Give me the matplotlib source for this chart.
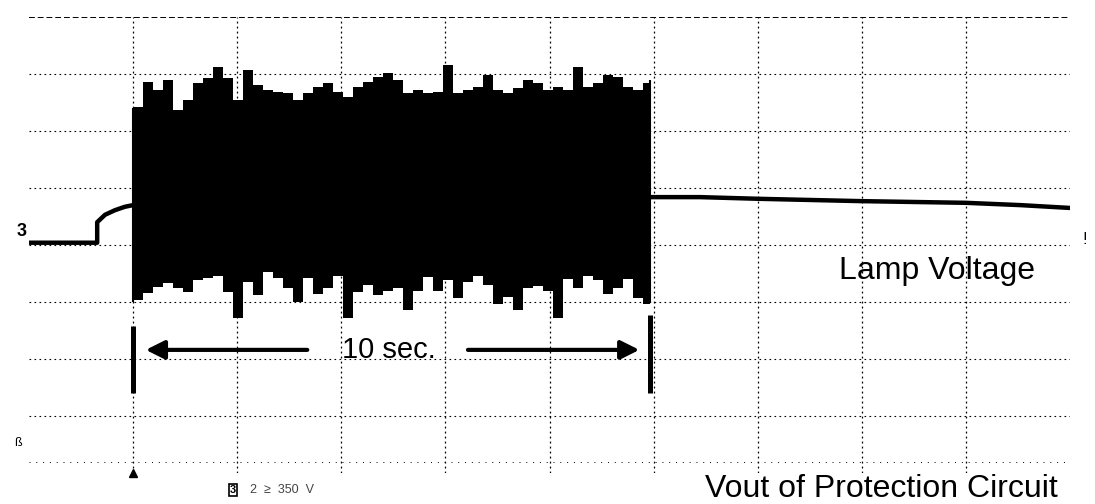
import matplotlib
matplotlib.use("Agg")
import matplotlib.pyplot as plt
import numpy as np

plt.rcParams['font.family'] = ['Liberation Sans', 'DejaVu Sans']

# time base 2 s/div, vertical scale in screen divisions
# lamp voltage before the fault burst
t_before = [0.0, 1.31, 1.31, 1.46, 1.65, 1.84, 2.0]
v_before = [4.04, 4.04, 4.40, 4.53, 4.61, 4.67, 4.70]

# lamp voltage after the protection circuit shuts down
t_after = [11.93, 12.89, 14.04, 15.97, 18.0, 19.04, 20.0]
v_after = [4.84, 4.84, 4.81, 4.77, 4.74, 4.70, 4.65]

# envelope of the oscillation burst (sampled about every 0.19 s)
burst_top = [6.42, 6.86, 6.72, 6.89, 6.37, 6.54, 6.84, 6.93, 7.12, 6.93,
             6.54, 7.07, 6.81, 6.72, 6.68, 6.67, 6.54, 6.67, 6.77, 6.84,
             6.68, 6.60, 6.77, 6.86, 6.95, 7.02, 6.89, 6.67, 6.72, 6.67,
             6.68, 7.16, 6.67, 6.72, 6.77, 6.98, 6.72, 6.67, 6.75, 6.89,
             6.84, 6.72, 6.77, 6.72, 7.12, 6.77, 6.84, 6.98, 6.95, 6.77,
             6.72, 6.84]
burst_bottom = [3.04, 3.16, 3.26, 3.33, 3.25, 3.18, 3.39, 3.42, 3.46, 3.18,
                2.72, 3.35, 3.12, 3.53, 3.42, 3.25, 3.00, 3.42, 3.14, 3.25,
                3.46, 2.72, 3.18, 3.30, 3.12, 3.19, 3.25, 2.86, 3.19, 3.44,
                3.19, 3.39, 3.07, 3.35, 3.46, 3.30, 2.96, 3.09, 2.86, 3.25,
                3.28, 3.19, 2.72, 3.40, 3.25, 3.46, 3.39, 3.14, 3.25, 3.40,
                3.07, 2.96]
burst_start = 2.0
burst_end = 11.93

# duration marker
mark_left = 2.0
mark_right = 11.93
mark_y = 2.16

fig = plt.figure(figsize=(10.95, 5.04), dpi=100)
ax = fig.add_axes([29/1095, 31/504, 1041/1095, 456/504])
ax.set_xlim(0, 20)
ax.set_ylim(0, 8)

# scope graticule
for gx in range(2, 20, 2):
    ax.axvline(gx, color='black', lw=0.9, ls=(0, (1.5, 2.5)), zorder=1)
for gy in range(1, 8):
    ax.axhline(gy, color='black', lw=0.8, ls=(0, (1.5, 3)), zorder=1)
ax.axhline(8, color='black', lw=1.4, ls=(0, (3, 1.5)), zorder=1)
ax.axhline(0.2, color='black', lw=0.7, ls=(0, (1, 6)), zorder=1)
for s in ax.spines.values():
    s.set_visible(False)
ax.set_xticks([])
ax.set_yticks([])

# waveform
n = len(burst_top)
t_burst = np.linspace(burst_start, burst_start + (n - 1) * 0.1921, n)
t_b = np.append(t_burst, burst_end)
top_b = np.append(burst_top, burst_top[-1])
bot_b = np.append(burst_bottom, burst_bottom[-1])
ax.fill_between(t_b, bot_b, top_b, step='post', color='black', lw=0, zorder=3)
ax.vlines([burst_start, burst_end], 3.0, [6.4, 6.9], color='black', lw=1.5, zorder=3)
ax.plot(t_before, v_before, color='black', lw=3.2, zorder=3)
ax.plot(t_after, v_after, color='black', lw=3.2, zorder=3)

# 10 sec marker
ax.vlines([mark_left, mark_right], 1.40, [2.58, 2.77], color='black', lw=3.6, zorder=4)
ax.annotate('', xy=(2.19, mark_y), xytext=(5.40, mark_y),
            arrowprops=dict(arrowstyle='-|>', color='black', lw=3,
                            mutation_scale=28), zorder=4)
ax.annotate('', xy=(11.78, mark_y), xytext=(8.38, mark_y),
            arrowprops=dict(arrowstyle='-|>', color='black', lw=3,
                            mutation_scale=28), zorder=4)
ax.text(6.92, 2.02, '10 sec.', fontsize=21, ha='center', va='baseline', zorder=5)

ax.text(17.44, 3.40, 'Lamp Voltage', fontsize=23, ha='center', va='baseline')
ax.text(16.37, -0.42, 'Vout of Protection Circuit', fontsize=23,
        ha='center', va='baseline', clip_on=False)

# scope markers
ax.plot([2.0], [0.0], marker='^', color='black', ms=6, clip_on=False)
fig.text(22/1095, 1 - 232/504, '3', fontsize=13, fontweight='bold',
         ha='center', va='center')
fig.text(18/1095, 1 - 443/504, 'ß', fontsize=9, ha='center', va='center')
fig.text(1085/1095, 1 - 240/504, '!', fontsize=12, ha='center', va='center')
fig.text(233/1095, 1 - 490/504, '3', fontsize=8, fontweight='bold',
         ha='center', va='center',
         bbox=dict(boxstyle='square,pad=0.1', fc='white', ec='black', lw=1.2))
fig.text(250/1095, 1 - 490/504, '2  ≥  350  V', fontsize=9, color='#444444',
         ha='left', va='center')

fig.savefig('out.png', dpi=100)
